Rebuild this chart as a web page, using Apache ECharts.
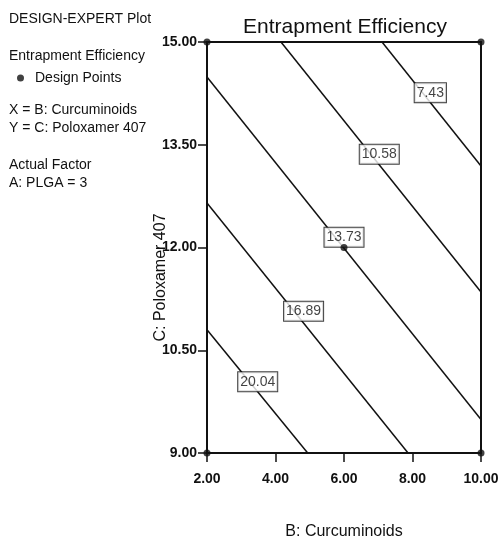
<!DOCTYPE html>
<html>
<head>
<meta charset="utf-8">
<script src="https://cdn.jsdelivr.net/npm/echarts@6/dist/echarts.min.js"></script>
<style>
  html, body { margin: 0; padding: 0; background: #fff; }
  #chart { width: 501px; height: 538px; }
</style>
</head>
<body>
<div id="chart"></div>
<script>
// Contour levels of Entrapment Efficiency (PLGA held at 3)
const contourLevels = ['7.43', '10.58', '13.73', '16.89', '20.04'];
// Where each contour line enters and leaves the design space [B, C]
const contourStart = [[7.11, 15.00], [4.16, 15.00], [2.00, 14.49], [2.00, 12.65], [2.00, 10.80]];
const contourEnd   = [[10.00, 13.19], [10.00, 11.35], [10.00, 9.49], [7.87, 9.00], [4.94, 9.00]];
// Where each contour's value tag sits [B, C]
const contourTagAt = [[8.52, 14.26], [7.03, 13.36], [6.00, 12.15], [4.82, 11.07], [3.48, 10.04]];
// Design points [B: Curcuminoids, C: Poloxamer 407]
const designPoints = [[2, 15], [10, 15], [2, 9], [10, 9], [6, 12]];
// Axis ranges and steps
const xTicks = { min: 2, max: 10, step: 2 };
const yTicks = { min: 9, max: 15, step: 1.5 };

const FONT = '"Liberation Sans", Arial, sans-serif';
const INK = '#111';

const contourSeries = contourLevels.map((lvl, i) => ({
  name: 'contour ' + lvl,
  type: 'line',
  data: [contourStart[i], contourEnd[i]],
  symbol: 'none',
  silent: true,
  z: 2,
  lineStyle: { color: INK, width: 1.5 }
}));

const chart = echarts.init(document.getElementById('chart'), null, { renderer: 'canvas' });

chart.setOption({
  backgroundColor: '#fff',
  animation: false,
  title: {
    text: 'Entrapment Efficiency',
    left: 340,
    top: 12,
    textAlign: 'center',
    textStyle: { fontFamily: FONT, fontSize: 21, fontWeight: 'normal', color: INK }
  },
  legend: {
    data: ['Design Points'],
    left: 12,
    top: 66,
    icon: 'circle',
    itemWidth: 7,
    itemHeight: 7,
    textStyle: { fontFamily: FONT, fontSize: 14, color: INK, padding: [0, 0, 0, 6] }
  },
  graphic: [
    { type: 'text', left: 9, top: 12, style: { text: 'DESIGN-EXPERT Plot', font: '14px ' + FONT, fill: INK } },
    { type: 'text', left: 9, top: 49, style: { text: 'Entrapment Efficiency', font: '14px ' + FONT, fill: INK } },
    { type: 'text', left: 9, top: 103, style: { text: 'X = B: Curcuminoids', font: '14px ' + FONT, fill: INK } },
    { type: 'text', left: 9, top: 121, style: { text: 'Y = C: Poloxamer 407', font: '14px ' + FONT, fill: INK } },
    { type: 'text', left: 9, top: 158, style: { text: 'Actual Factor', font: '14px ' + FONT, fill: INK } },
    { type: 'text', left: 9, top: 176, style: { text: 'A: PLGA = 3', font: '14px ' + FONT, fill: INK } }
  ],
  grid: {
    left: 207, right: 20, top: 42, bottom: 85,
    outerBoundsMode: 'none',
    containLabel: false,
    show: true, borderColor: INK, borderWidth: 2, backgroundColor: 'transparent'
  },
  xAxis: {
    type: 'value',
    min: xTicks.min, max: xTicks.max, interval: xTicks.step,
    name: 'B: Curcuminoids',
    nameLocation: 'middle',
    nameGap: 71,
    nameMoveOverlap: false,
    nameTextStyle: { fontFamily: FONT, fontSize: 16, color: INK },
    axisLine: { show: true, lineStyle: { color: INK, width: 2 } },
    axisTick: { show: true, inside: false, length: 9, lineStyle: { color: INK, width: 1.5 } },
    axisLabel: {
      margin: 19,
      fontFamily: FONT, fontSize: 14, fontWeight: 'bold', color: INK,
      formatter: v => v.toFixed(2)
    },
    splitLine: { show: false }
  },
  yAxis: {
    type: 'value',
    min: yTicks.min, max: yTicks.max, interval: yTicks.step,
    name: 'C: Poloxamer 407',
    nameLocation: 'middle',
    nameRotate: 90,
    nameGap: 38,
    nameMoveOverlap: false,
    nameTextStyle: { fontFamily: FONT, fontSize: 16, color: INK, padding: [0, 60, 0, 0] },
    axisLine: { show: true, lineStyle: { color: INK, width: 2 } },
    axisTick: { show: true, inside: false, length: 9, lineStyle: { color: INK, width: 1.5 } },
    axisLabel: {
      margin: 10,
      fontFamily: FONT, fontSize: 14, fontWeight: 'bold', color: INK,
      formatter: v => v.toFixed(2)
    },
    splitLine: { show: false }
  },
  series: [
    ...contourSeries,
    {
      name: 'contour tags',
      type: 'scatter',
      symbolSize: 0,
      silent: true,
      z: 3,
      data: contourLevels.map((lvl, i) => ({ name: lvl, value: contourTagAt[i] })),
      label: {
        show: true,
        position: 'inside',
        formatter: '{b}',
        fontFamily: FONT,
        fontSize: 14,
        color: INK,
        backgroundColor: '#fff',
        borderColor: INK,
        borderWidth: 1,
        padding: [3, 2, 2, 2]
      }
    },
    {
      name: 'Design Points',
      type: 'scatter',
      data: designPoints,
      symbol: 'circle',
      symbolSize: 7,
      clip: false,
      z: 5,
      itemStyle: { color: INK }
    }
  ]
});
</script>
</body>
</html>
